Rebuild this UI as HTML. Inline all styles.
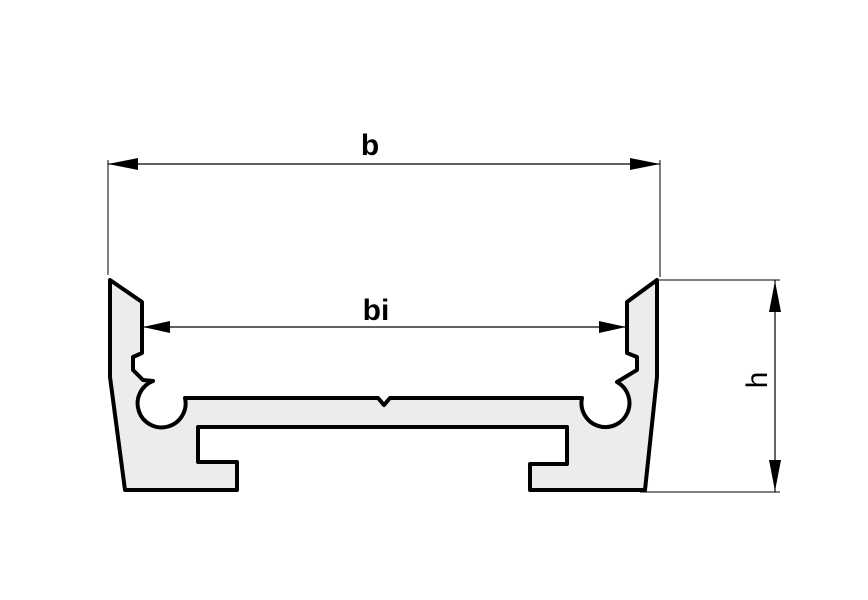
<!DOCTYPE html>
<html><head><style>body{margin:0;background:#fff}svg{display:block}</style></head><body>
<svg width="868" height="600" viewBox="0 0 868 600" xmlns="http://www.w3.org/2000/svg">
<rect width="868" height="600" fill="#fff"/>
<!-- profile -->
<path d="M110,280 L142,302 L142,353 L133,357 L133,370 L143,380 L153,381
A24,24 0 1 0 185,398 L378,398 L384,405 L390,398 L582,398
A24,24 0 1 0 617,382 L637,370 L637,357 L627,353 L627,302 L657,280
L657,377 L645,490 L530,490 L530,464 L567,464 L567,427 L198,427 L198,462 L237,462 L237,490 L125,490 L110,377 Z"
fill="#ececec" stroke="#000" stroke-width="4" stroke-linejoin="round"/>
<!-- b dimension -->
<line x1="108" y1="160" x2="108" y2="275" stroke="#000" stroke-width="1"/>
<line x1="660" y1="160" x2="660" y2="277" stroke="#000" stroke-width="1"/>
<line x1="108" y1="164" x2="660" y2="164" stroke="#000" stroke-width="1.2"/>
<path d="M108,164 L138,158 L138,170 Z M660,164 L630,158 L630,170 Z" fill="#000"/>
<text x="370" y="155" font-family="Liberation Sans, sans-serif" font-weight="bold" font-size="30" text-anchor="middle">b</text>
<!-- bi -->
<line x1="143" y1="327" x2="626" y2="327" stroke="#000" stroke-width="1.2"/>
<path d="M143,327 L170,321 L170,333 Z M626,327 L599,321 L599,333 Z" fill="#000"/>
<text x="376" y="320" font-family="Liberation Sans, sans-serif" font-weight="bold" font-size="30" text-anchor="middle">bi</text>
<!-- h -->
<line x1="657" y1="280" x2="780" y2="280" stroke="#000" stroke-width="1"/>
<line x1="640" y1="492" x2="780" y2="492" stroke="#000" stroke-width="1"/>
<line x1="775" y1="280" x2="775" y2="492" stroke="#000" stroke-width="1.2"/>
<path d="M775,281 L769,312 L781,312 Z M775,491 L769,460 L781,460 Z" fill="#000"/>
<text transform="translate(767,380) rotate(-90)" font-family="Liberation Sans, sans-serif" font-size="30" text-anchor="middle">h</text>
</svg>
</body></html>
